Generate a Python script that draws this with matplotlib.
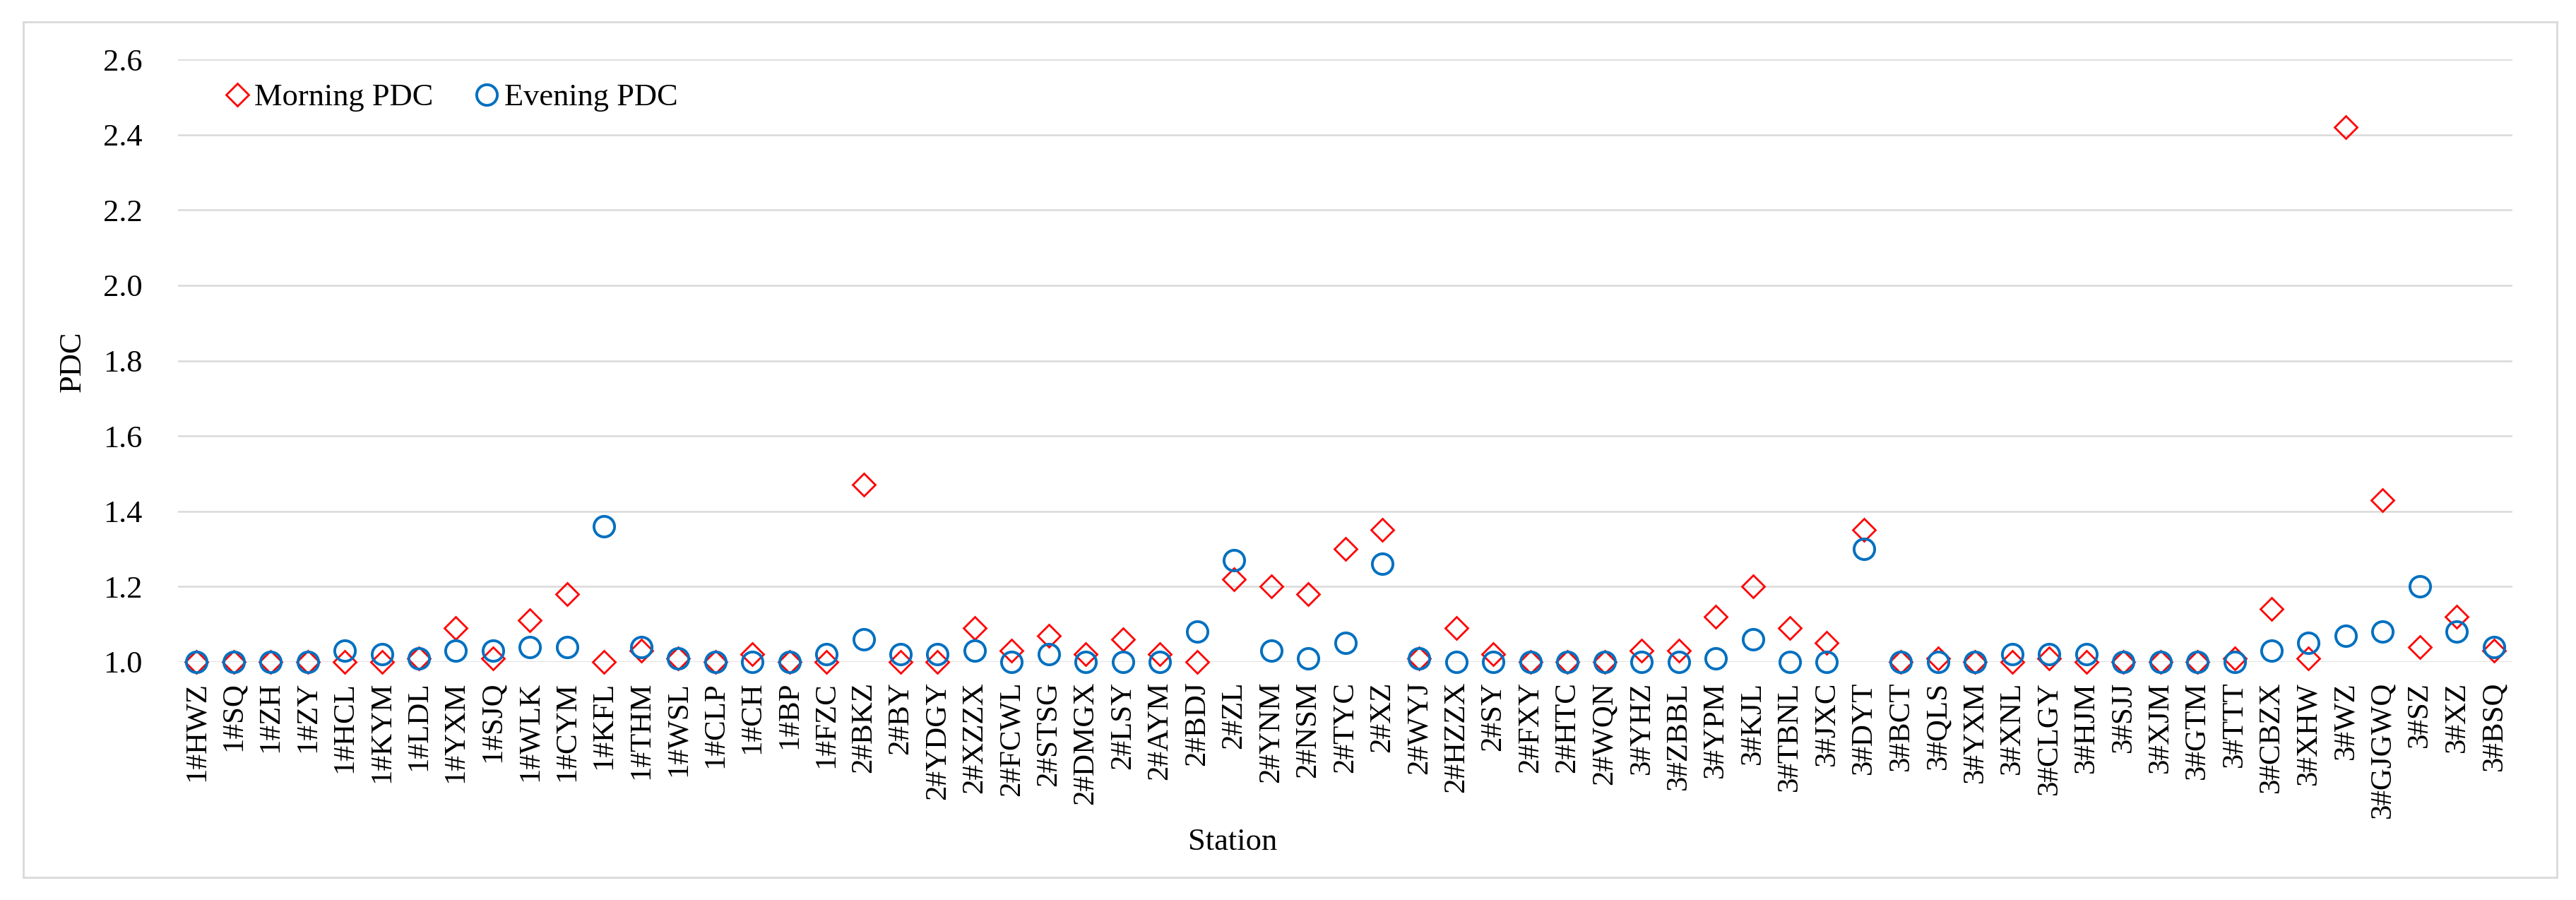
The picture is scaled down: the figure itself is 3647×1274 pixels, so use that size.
import numpy as np
import matplotlib
matplotlib.use('Agg')
import matplotlib.pyplot as plt
from matplotlib.patches import Rectangle

plt.rcParams['font.family'] = ['Liberation Serif', 'DejaVu Serif']

# station names (x categories)
stations = ['1#HWZ', '1#SQ', '1#ZH', '1#ZY', '1#HCL', '1#KYM', '1#LDL', '1#YXM', '1#SJQ',
            '1#WLK', '1#CYM', '1#KFL', '1#THM', '1#WSL', '1#CLP', '1#CH', '1#BP', '1#FZC',
            '2#BKZ', '2#BY', '2#YDGY', '2#XZZX', '2#FCWL', '2#STSG', '2#DMGX', '2#LSY',
            '2#AYM', '2#BDJ', '2#ZL', '2#YNM', '2#NSM', '2#TYC', '2#XZ', '2#WYJ', '2#HZZX',
            '2#SY', '2#FXY', '2#HTC', '2#WQN', '3#YHZ', '3#ZBBL', '3#YPM', '3#KJL', '3#TBNL',
            '3#JXC', '3#DYT', '3#BCT', '3#QLS', '3#YXM', '3#XNL', '3#CLGY', '3#HJM', '3#SJJ',
            '3#XJM', '3#GTM', '3#TTT', '3#CBZX', '3#XHW', '3#WZ', '3#GJGWQ', '3#SZ', '3#XZ',
            '3#BSQ']

# morning PDC (red diamonds)
morning = [1.00, 1.00, 1.00, 1.00, 1.00, 1.00, 1.01, 1.09, 1.01,
           1.11, 1.18, 1.00, 1.03, 1.01, 1.00, 1.02, 1.00, 1.00,
           1.47, 1.00, 1.00, 1.09, 1.03, 1.07, 1.02, 1.06,
           1.02, 1.00, 1.22, 1.20, 1.18, 1.30, 1.35, 1.01, 1.09,
           1.02, 1.00, 1.00, 1.00, 1.03, 1.03, 1.12, 1.20, 1.09,
           1.05, 1.35, 1.00, 1.01, 1.00, 1.00, 1.01, 1.00, 1.00,
           1.00, 1.00, 1.01, 1.14, 1.01, 2.42, 1.43, 1.04, 1.12,
           1.03]

# evening PDC (blue circles)
evening = [1.00, 1.00, 1.00, 1.00, 1.03, 1.02, 1.01, 1.03, 1.03,
           1.04, 1.04, 1.36, 1.04, 1.01, 1.00, 1.00, 1.00, 1.02,
           1.06, 1.02, 1.02, 1.03, 1.00, 1.02, 1.00, 1.00,
           1.00, 1.08, 1.27, 1.03, 1.01, 1.05, 1.26, 1.01, 1.00,
           1.00, 1.00, 1.00, 1.00, 1.00, 1.00, 1.01, 1.06, 1.00,
           1.00, 1.30, 1.00, 1.00, 1.00, 1.02, 1.02, 1.02, 1.00,
           1.00, 1.00, 1.00, 1.03, 1.05, 1.07, 1.08, 1.20, 1.08,
           1.04]

yticks = [1.0, 1.2, 1.4, 1.6, 1.8, 2.0, 2.2, 2.4, 2.6]

x = np.arange(len(stations))
W, H = 3647, 1274
fig = plt.figure(figsize=(W / 100, H / 100), dpi=100)
ax = fig.add_axes([252 / W, 1 - 937 / H, (3557 - 252) / W, (937 - 84) / H])

# outer chart border
fig.patches.append(Rectangle((33 / W, 1 - 1242 / H), (3620 - 33) / W, (1242 - 31) / H,
                             transform=fig.transFigure, fill=False,
                             edgecolor='#D9D9D9', linewidth=2))

ax.plot(x, morning, linestyle='none', marker='D', markersize=16.5, markerfacecolor='none',
        markeredgecolor='#FF0000', markeredgewidth=2.0, label='Morning PDC', clip_on=False, zorder=3)
ax.plot(x, evening, linestyle='none', marker='o', markersize=21, markerfacecolor='none',
        markeredgecolor='#0070C0', markeredgewidth=2.8, label='Evening PDC', clip_on=False, zorder=4)

ax.set_xlim(-0.5, len(stations) - 0.5)
ax.set_ylim(1.0, 2.6)
ax.set_yticks(yticks)
ax.set_yticklabels(['%.1f' % v for v in yticks], fontsize=32)
ax.set_xticks(x)
ax.set_xticklabels(stations, rotation=90, fontsize=31)
ax.tick_params(axis='y', length=0, pad=36)
ax.tick_params(axis='x', length=0, pad=20)
ax.yaxis.grid(True, color='#D9D9D9', linewidth=1.8)
ax.set_axisbelow(True)
for spine in ax.spines.values():
    spine.set_visible(False)

fig.text(103 / W, 1 - 512 / H, 'PDC', rotation=90, ha='center', va='center', fontsize=32)
fig.text(1745 / W, 1 - 1192 / H, 'Station', ha='center', va='center', fontsize=32)

ax.legend(loc='center left', bbox_to_anchor=((318 - 252) / (3557 - 252), (937 - 138) / 853),
          ncol=2, frameon=False, fontsize=32, handlelength=0.8, handletextpad=0.15,
          columnspacing=1.3, borderpad=0, borderaxespad=0)

plt.savefig('out.png', dpi=100)
